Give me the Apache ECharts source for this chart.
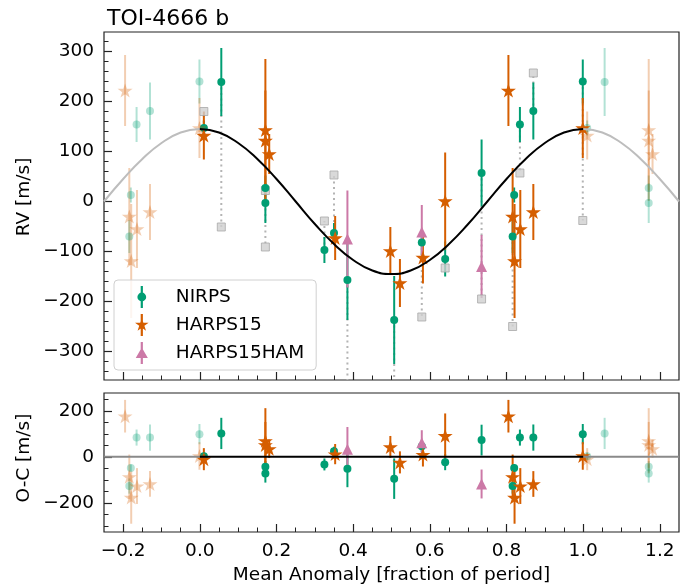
<!DOCTYPE html>
<html><head><meta charset="utf-8">
<script src="https://cdn.jsdelivr.net/npm/echarts@6/dist/echarts.min.js"></script>
<style>html,body{margin:0;padding:0;background:#fff}#c{width:699px;height:587px}</style>
</head><body><div id="c"></div>
<script>
// ---------------- data ----------------
const nirpsPhase = [0.0105, 0.056, 0.171, 0.171, 0.325, 0.350, 0.385, 0.507, 0.579, 0.640, 0.735, 0.820, 0.816, 0.835, 0.870, 0.999];
const nirpsRV    = [147, 239, 27, -3, -97, -63, -157, -237, -82, -115, 57, 13, -70, 154, 181, 240];
const nirpsErr   = [15, 68, 25, 40, 26, 20, 80, 88, 25, 35, 67, 15, 33, 35, 57, 44];
const nirpsOC    = [3, 102, -43, -72, -33, 24, -52, -95, 46, -23, 73, -48, -127, 84, 84, 99];
const nirpsRaw   = [180, -51, 22, -91, -39, 53, -420, -420, -231, -133, -195, null, -250, 57, 257, -38];

const harpsPhase = [0.0105, 0.171, 0.171, 0.181, 0.353, 0.497, 0.522, 0.582, 0.640, 0.805, 0.816, 0.821, 0.836, 0.870, 0.999];
const harpsRV    = [132, 143, 122, 95, -73, -99, -163, -112, 1, 222, -30, -119, -55, -21, 147];
const harpsErr   = [48, 142, 100, 40, 44, 48, 48, 52, 97, 71, 97, 114, 78, 56, 60];
const harpsOC    = [-10, 70, 52, 35, 12, 43, -24, 10, 92, 177, -87, -177, -127, -118, 4];

const hamPhase = [0.385, 0.579, 0.735];
const hamRV    = [-75, -61, -130];
const hamErr   = [97, 54, 63];
const hamOC    = [33, 62, -118];

const modelPhase = [-0.25,-0.2,-0.15,-0.1,-0.05,0,0.05,0.1,0.15,0.2,0.25,0.3,0.35,0.4,0.45,0.5,0.55,0.6,0.65,0.7,0.75,0.8,0.85,0.9,0.95,1.0,1.05,1.1,1.15,1.2,1.25];
const modelRV    = [0,45,85,117,138,145,138,117,85,45,0,-45,-85,-117,-138,-145,-138,-117,-85,-45,0,45,85,117,138,145,138,117,85,45,0];

const xMajorTicks = [-0.2, 0, 0.2, 0.4, 0.6, 0.8, 1.0, 1.2];
const xMinorTicks = [-0.2,-0.15,-0.1,-0.05,0,0.05,0.1,0.15,0.2,0.25,0.3,0.35,0.4,0.45,0.5,0.55,0.6,0.65,0.7,0.75,0.8,0.85,0.9,0.95,1.0,1.05,1.1,1.15,1.2];
const rvMajorTicks = [-300,-200,-100,0,100,200,300];
const rvMinorTicks = [-340,-320,-300,-280,-260,-240,-220,-200,-180,-160,-140,-120,-100,-80,-60,-40,-20,0,20,40,60,80,100,120,140,160,180,200,220,240,260,280,300,320];
const ocMajorTicks = [-200, 0, 200];
const ocMinorTicks = [-300,-250,-200,-150,-100,-50,0,50,100,150,200,250];

// ---------------- styling ----------------
const C_NIRPS = '#009E73', C_HARPS = '#D55E00', C_HAM = '#CC79A7';
const FONT = 'DejaVu Sans';
const FS = 18.5;
const X_MIN = -0.25, X_MAX = 1.25;
const STAR = 'path://M50,0L61.2,34.5L97.6,34.5L68.2,55.9L79.4,90.5L50,69.1L20.6,90.5L31.8,55.9L2.4,34.5L38.8,34.5Z';
const ICON_CIRCLE = 'path://M-1,-10L1,-10L1,10L-1,10Z M0,-4A4,4 0 1,1 0,4A4,4 0 1,1 0,-4Z';
const ICON_STAR = 'path://M-1,-10L1,-10L1,10L-1,10Z M0,-6.5L1.46,-2.01L6.18,-2.01L2.36,0.77L3.82,5.26L0,2.48L-3.82,5.26L-2.36,0.77L-6.18,-2.01L-1.46,-2.01Z';
const ICON_TRI = 'path://M-1,-10L1,-10L1,10L-1,10Z M0,-5L5.5,4.5L-5.5,4.5Z';
const FADE = 0.3;

function pts(ph, v, e) { return ph.map((p, i) => [p, v[i], e[i]]); }
function wrapped(ph, v, e) {
  const out = [];
  ph.forEach((p, i) => {
    [p - 1, p + 1].forEach(q => { if (q >= X_MIN && q <= X_MAX) out.push([q, v[i], e[i]]); });
  });
  return out;
}

function errSeries(list, color, ax, opacity) {
  return {
    type: 'custom', xAxisIndex: ax, yAxisIndex: ax, silent: true, clip: true,
    data: list.map(p => [p[0], p[1] - p[2], p[1] + p[2]]),
    encode: { x: 0, y: [1, 2] },
    renderItem(params, api) {
      const a = api.coord([api.value(0), api.value(1)]);
      const b = api.coord([api.value(0), api.value(2)]);
      return { type: 'line', shape: { x1: a[0], y1: a[1], x2: b[0], y2: b[1] },
               style: { stroke: color, lineWidth: 2, opacity: opacity } };
    }
  };
}
function markSeries(name, list, color, symbol, size, ax, opacity) {
  return {
    type: 'scatter', name: name, xAxisIndex: ax, yAxisIndex: ax, silent: true,
    symbol: symbol, symbolSize: size,
    itemStyle: { color: color, opacity: opacity },
    data: list.map(p => [p[0], p[1]])
  };
}
function group(name, ph, v, e, color, symbol, size, ax, withWrap) {
  const main = pts(ph, v, e);
  const out = [];
  if (withWrap) {
    const w = wrapped(ph, v, e);
    out.push(errSeries(w, color, ax, FADE));
    out.push(markSeries(name + ' (wrap)', w, color, symbol, size, ax, FADE));
  }
  out.push(errSeries(main, color, ax, 1));
  out.push(markSeries(name, main, color, symbol, size, ax, 1));
  return out;
}

const modelAll = modelPhase.map((p, i) => [p, modelRV[i]]);
const modelLeft = modelAll.filter(d => d[0] <= 0);
const modelMid = modelAll.filter(d => d[0] >= 0 && d[0] <= 1);
const modelRight = modelAll.filter(d => d[0] >= 1);
const zeroLeft = modelLeft.map(d => [d[0], 0]);
const zeroMid = modelMid.map(d => [d[0], 0]);
const zeroRight = modelRight.map(d => [d[0], 0]);

const connData = [];
const rawData = [];
nirpsPhase.forEach((p, i) => {
  if (nirpsRaw[i] === null) return;
  connData.push([p, nirpsRV[i], nirpsRaw[i]]);
  rawData.push([p, nirpsRaw[i]]);
});

const fmtNum = v => (v < 0 ? '\u2212' : '') + Math.abs(v);
const fmtX = v => (v < -1e-9 ? '\u2212' : '') + Math.abs(v).toFixed(1);

function xAxes(grid, showLabels) {
  const common = { type: 'value', gridIndex: grid, min: X_MIN, max: X_MAX, position: 'bottom',
                   axisLine: { show: false, onZero: false }, splitLine: { show: false } };
  return [
    Object.assign({}, common, {
      axisTick: { show: true, inside: true, length: 8, customValues: xMajorTicks, lineStyle: { color: '#222', width: 1.2 } },
      axisLabel: { show: showLabels, customValues: xMajorTicks, formatter: fmtX, margin: 10,
                   fontFamily: FONT, fontSize: FS, color: '#000' },
      name: showLabels ? 'Mean Anomaly [fraction of period]' : '', nameLocation: 'middle', nameGap: 34,
      nameTextStyle: { fontFamily: FONT, fontSize: FS, color: '#000' }
    }),
    Object.assign({}, common, {
      axisTick: { show: true, inside: true, length: 4.5, customValues: xMinorTicks, lineStyle: { color: '#222', width: 1 } },
      axisLabel: { show: false }
    })
  ];
}
function yAxes(grid, min, max, major, minor) {
  const common = { type: 'value', gridIndex: grid, min: min, max: max, position: 'left',
                   axisLine: { show: false, onZero: false }, splitLine: { show: false } };
  return [
    Object.assign({}, common, {
      axisTick: { show: true, inside: true, length: 8, customValues: major, lineStyle: { color: '#222', width: 1.2 } },
      axisLabel: { show: true, customValues: major, formatter: fmtNum, margin: 10,
                   fontFamily: FONT, fontSize: FS, color: '#000' }
    }),
    Object.assign({}, common, {
      axisTick: { show: true, inside: true, length: 4.5, customValues: minor, lineStyle: { color: '#222', width: 1 } },
      axisLabel: { show: false }
    })
  ];
}

function lineS(ax, data, color, smooth) {
  return { type: 'line', xAxisIndex: ax, yAxisIndex: ax, data: data, smooth: smooth, showSymbol: false, silent: true,
           lineStyle: { color: color, width: 2 } };
}

const series = [];
series.push(lineS(0, modelLeft, '#bdbdbd', true));
series.push(lineS(0, modelRight, '#bdbdbd', true));
series.push(lineS(0, modelMid, '#000', true));
series.push({
  type: 'custom', xAxisIndex: 0, yAxisIndex: 0, silent: true, clip: true,
  data: connData, encode: { x: 0, y: [1, 2] },
  renderItem(params, api) {
    const a = api.coord([api.value(0), api.value(1)]);
    const b = api.coord([api.value(0), api.value(2)]);
    return { type: 'line', shape: { x1: a[0], y1: a[1], x2: b[0], y2: b[1] },
             style: { stroke: '#b4b4b4', lineWidth: 2, lineDash: [2, 3.5] } };
  }
});
series.push({ type: 'scatter', xAxisIndex: 0, yAxisIndex: 0, silent: true, symbol: 'rect', symbolSize: 8,
              itemStyle: { color: '#cfcfcf', borderColor: '#a9a9a9', borderWidth: 1 }, data: rawData });
series.push(...group('NIRPS', nirpsPhase, nirpsRV, nirpsErr, C_NIRPS, 'circle', 8, 0, true));
series.push(...group('HARPS15', harpsPhase, harpsRV, harpsErr, C_HARPS, STAR, [15, 14], 0, true));
series.push(...group('HARPS15HAM', hamPhase, hamRV, hamErr, C_HAM, 'triangle', 11, 0, true));

series.push(lineS(2, zeroLeft, '#8a8a8a', false));
series.push(lineS(2, zeroRight, '#8a8a8a', false));
series.push(lineS(2, zeroMid, '#000', false));
series.push(...group('NIRPS', nirpsPhase, nirpsOC, nirpsErr, C_NIRPS, 'circle', 8, 2, true));
series.push(...group('HARPS15', harpsPhase, harpsOC, harpsErr, C_HARPS, STAR, [15, 14], 2, true));
series.push(...group('HARPS15HAM', hamPhase, hamOC, hamErr, C_HAM, 'triangle', 11, 2, true));

const option = {
  animation: false,
  backgroundColor: '#fff',
  title: { text: 'TOI-4666 b', left: 102, top: 3,
           textStyle: { fontFamily: FONT, fontSize: 22, fontWeight: 'normal', color: '#000' } },
  graphic: [
    { type: 'text', x: 24, y: 197, rotation: Math.PI / 2, silent: true,
      style: { text: 'RV [m/s]', fontFamily: FONT, fontSize: FS, fill: '#000', align: 'center', verticalAlign: 'middle' } },
    { type: 'text', x: 24, y: 458, rotation: Math.PI / 2, silent: true,
      style: { text: 'O-C [m/s]', fontFamily: FONT, fontSize: FS, fill: '#000', align: 'center', verticalAlign: 'middle' } }
  ],
  grid: [
    { left: 104, top: 32, width: 575, height: 348, show: true, borderColor: '#222', borderWidth: 1.2, backgroundColor: 'transparent' },
    { left: 104, top: 393, width: 575, height: 139, show: true, borderColor: '#222', borderWidth: 1.2, backgroundColor: 'transparent' }
  ],
  xAxis: [...xAxes(0, false), ...xAxes(1, true)],
  yAxis: [...yAxes(0, -357, 339, rvMajorTicks, rvMinorTicks),
          ...yAxes(1, -327, 278, ocMajorTicks, ocMinorTicks)],
  legend: {
    left: 114, top: 280, orient: 'vertical', selectedMode: false,
    padding: [6, 12, 6, 21], itemGap: 6, itemWidth: 40, itemHeight: 22,
    backgroundColor: 'rgba(255,255,255,0.8)', borderColor: '#d0d0d0', borderWidth: 1, borderRadius: 4,
    textStyle: { fontFamily: FONT, fontSize: FS, color: '#000', padding: [0, 0, 0, 9] },
    data: [{ name: 'NIRPS', icon: ICON_CIRCLE }, { name: 'HARPS15', icon: ICON_STAR }, { name: 'HARPS15HAM', icon: ICON_TRI }]
  },
  series: series
};

const chart = echarts.init(document.getElementById('c'), null, { renderer: 'canvas' });
chart.setOption(option);
</script>
</body></html>
